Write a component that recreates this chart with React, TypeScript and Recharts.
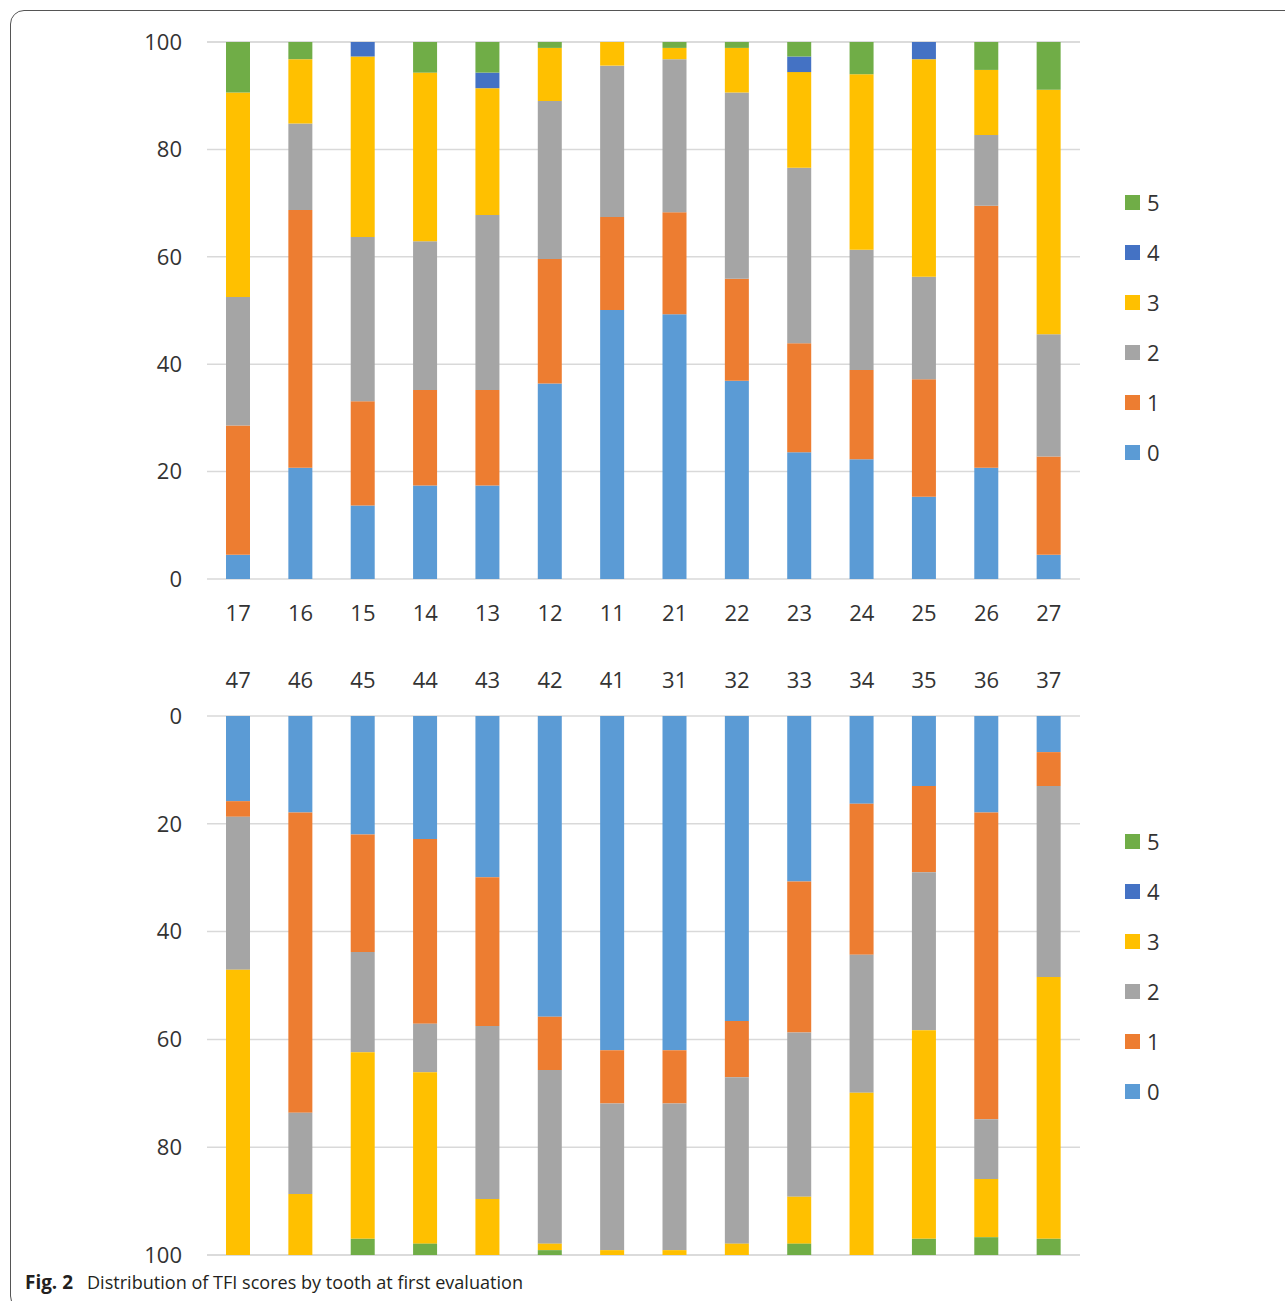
import React from 'react';
import { BarChart, Bar, XAxis, YAxis, CartesianGrid, Legend } from 'recharts';

// Upper jaw (first chart)
const upperTeeth = ['17', '16', '15', '14', '13', '12', '11', '21', '22', '23', '24', '25', '26', '27'];
const upperScore0 = [4.5, 20.7, 13.7, 17.4, 17.4, 36.4, 50.1, 49.3, 36.9, 23.6, 22.3, 15.3, 20.7, 4.5];
const upperScore1 = [24.1, 48.0, 19.4, 17.8, 17.8, 23.2, 17.3, 19.0, 19.0, 20.3, 16.6, 21.9, 48.8, 18.3];
const upperScore2 = [23.9, 16.1, 30.6, 27.7, 32.6, 29.4, 28.2, 28.5, 34.7, 32.7, 22.4, 19.1, 13.2, 22.8];
const upperScore3 = [38.1, 12.0, 33.6, 31.4, 23.6, 9.9, 4.4, 2.1, 8.3, 17.8, 32.7, 40.5, 12.1, 45.5];
const upperScore4 = [0, 0, 2.7, 0, 2.9, 0, 0, 0, 0, 2.9, 0, 3.2, 0, 0];
const upperScore5 = [9.4, 3.2, 0, 5.7, 5.7, 1.1, 0, 1.1, 1.1, 2.7, 6.0, 0, 5.2, 8.9];

// Lower jaw (second chart)
const lowerTeeth = ['47', '46', '45', '44', '43', '42', '41', '31', '32', '33', '34', '35', '36', '37'];
const lowerScore0 = [15.8, 17.9, 22.0, 22.8, 29.9, 55.8, 62.0, 62.0, 56.6, 30.7, 16.3, 13.0, 17.9, 6.7];
const lowerScore1 = [2.9, 55.7, 21.8, 34.3, 27.6, 9.9, 9.9, 9.9, 10.4, 28.0, 28.0, 16.0, 56.9, 6.3];
const lowerScore2 = [28.4, 15.1, 18.6, 9.0, 32.1, 32.2, 27.2, 27.2, 30.9, 30.5, 25.6, 29.3, 11.1, 35.4];
const lowerScore3 = [52.9, 11.3, 34.6, 31.8, 10.4, 1.2, 0.9, 0.9, 2.1, 8.7, 30.1, 38.7, 10.8, 48.6];
const lowerScore4 = [0, 0, 0, 0, 0, 0, 0, 0, 0, 0, 0, 0, 0, 0];
const lowerScore5 = [0, 0, 3.0, 2.1, 0, 0.9, 0, 0, 0, 2.1, 0, 3.0, 3.3, 3.0];

const scoreNames = ['0', '1', '2', '3', '4', '5'];
const scoreColors = ['#5B9BD5', '#ED7D31', '#A5A5A5', '#FFC000', '#4472C4', '#70AD47'];
const yTicks = [0, 20, 40, 60, 80, 100];

const captionBold = 'Fig. 2';
const captionText = 'Distribution of TFI scores by tooth at first evaluation';

function buildRows(teeth: string[], series: number[][]) {
  return teeth.map((tooth, i) => {
    const row: Record<string, string | number> = { tooth };
    series.forEach((s, k) => {
      row['s' + k] = s[i];
    });
    return row;
  });
}

const upperRows = buildRows(upperTeeth, [upperScore0, upperScore1, upperScore2, upperScore3, upperScore4, upperScore5]);
const lowerRows = buildRows(lowerTeeth, [lowerScore0, lowerScore1, lowerScore2, lowerScore3, lowerScore4, lowerScore5]);

const FONT = "'Open Sans', 'Noto Sans', sans-serif";
const TEXT_COLOR = '#333333';
const tickStyle = { fill: TEXT_COLOR, fontSize: 22, fontFamily: FONT };

const LegendContent = (props: any) => {
  const items = [...(props.payload || [])].reverse();
  return (
    <div style={{ fontFamily: FONT, fontSize: 22, color: TEXT_COLOR }}>
      {items.map((it: any) => (
        <div key={it.value} style={{ height: 50, display: 'flex', alignItems: 'center' }}>
          <span style={{ width: 15, height: 15, background: it.color, display: 'inline-block', marginRight: 7 }} />
          <span style={{ lineHeight: '22px' }}>{it.value}</span>
        </div>
      ))}
    </div>
  );
};

const renderBars = () =>
  scoreNames.map((name, k) => (
    <Bar
      key={name}
      dataKey={'s' + k}
      name={name}
      stackId="a"
      fill={scoreColors[k]}
      barSize={24}
      isAnimationActive={false}
    />
  ));

export default function App() {
  return (
    <div style={{ position: 'absolute', left: 0, top: 0, width: 1285, height: 1301, overflow: 'hidden', background: '#fff' }}>
      <div
        style={{
          position: 'absolute',
          left: 10,
          top: 10,
          width: 1300,
          height: 1300,
          border: '1.5px solid #555',
          borderRadius: 14,
          boxSizing: 'border-box',
        }}
      />
      <div style={{ position: 'absolute', left: 0, top: 0 }}>
        <BarChart width={1285} height={640} data={upperRows} margin={{ top: 42, right: 125, bottom: 31, left: 147 }}>
          <CartesianGrid vertical={false} stroke="#d9d9d9" strokeWidth={1.5} />
          <XAxis
            dataKey="tooth"
            axisLine={false}
            tickLine={false}
            tickSize={0}
            tickMargin={26}
            height={30}
            tick={tickStyle}
            interval={0}
          />
          <YAxis
            domain={[0, 100]}
            ticks={yTicks}
            axisLine={false}
            tickLine={false}
            tickSize={0}
            tickMargin={25}
            width={60}
            tick={tickStyle}
          />
          <Legend
            layout="vertical"
            align="right"
            verticalAlign="middle"
            content={<LegendContent />}
            wrapperStyle={{ position: 'absolute', left: 1125, top: 177, width: 80 }}
          />
          {renderBars()}
        </BarChart>
      </div>
      <div style={{ position: 'absolute', left: 0, top: 640 }}>
        <BarChart width={1285} height={660} data={lowerRows} margin={{ top: 46, right: 125, bottom: 45, left: 147 }}>
          <CartesianGrid vertical={false} stroke="#d9d9d9" strokeWidth={1.5} />
          <XAxis
            dataKey="tooth"
            orientation="top"
            axisLine={false}
            tickLine={false}
            tickSize={0}
            tickMargin={28}
            height={30}
            tick={tickStyle}
            interval={0}
          />
          <YAxis
            reversed
            domain={[0, 100]}
            ticks={yTicks}
            axisLine={false}
            tickLine={false}
            tickSize={0}
            tickMargin={25}
            width={60}
            tick={tickStyle}
          />
          <Legend
            layout="vertical"
            align="right"
            verticalAlign="middle"
            content={<LegendContent />}
            wrapperStyle={{ position: 'absolute', left: 1125, top: 176, width: 80 }}
          />
          {renderBars()}
        </BarChart>
      </div>
      <svg style={{ position: 'absolute', left: 0, top: 1262 }} width={700} height={39}>
        <text x={25} y={27} fontFamily={FONT} fontSize={19} fill="#231f20">
          <tspan fontWeight="bold" textLength={48} lengthAdjust="spacingAndGlyphs">{captionBold}</tspan>
          <tspan x={87} textLength={436} lengthAdjust="spacingAndGlyphs">{captionText}</tspan>
        </text>
      </svg>
    </div>
  );
}
